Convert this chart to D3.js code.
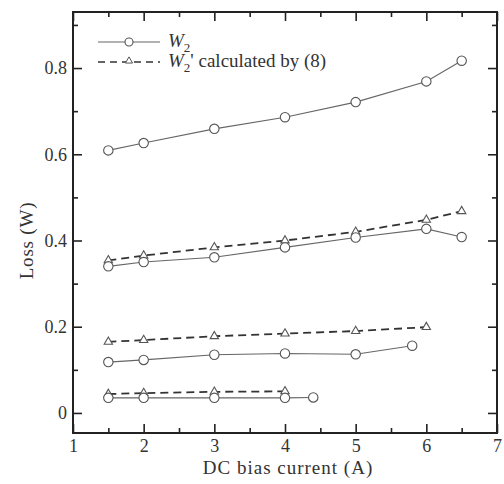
<!DOCTYPE html>
<html><head><meta charset="utf-8">
<script src="https://cdn.jsdelivr.net/npm/d3@7"></script>
<style>
html,body{margin:0;padding:0;background:#fff;}
</style></head>
<body><svg id="c" width="504" height="484"></svg>
<script>
// ---- data ----
const xA = [1.5, 2, 3, 4, 5, 6, 6.5];
const w2_high = [0.609, 0.626, 0.659, 0.686, 0.721, 0.769, 0.817];
const w2_mid = [0.340, 0.350, 0.361, 0.384, 0.407, 0.427, 0.408];
const w2p_mid = [0.354, 0.365, 0.384, 0.400, 0.420, 0.448, 0.468];
const xB = [1.5, 2, 3, 4, 5, 6];
const w2p_low = [0.165, 0.169, 0.178, 0.184, 0.190, 0.199];
const xC = [1.5, 2, 3, 4, 5, 5.8];
const w2_low = [0.118, 0.123, 0.135, 0.138, 0.136, 0.156];
const xD = [1.5, 2, 3, 4];
const w2p_bot = [0.044, 0.046, 0.049, 0.050];
const xE = [1.5, 2, 3, 4, 4.4];
const w2_bot = [0.035, 0.035, 0.035, 0.035, 0.036];
const xTicks = [1, 2, 3, 4, 5, 6, 7];
const yTicks = [0, 0.2, 0.4, 0.6, 0.8];
const xLabel = "DC bias current (A)";
const yLabel = "Loss (W)";

const solidSeries = [[xA, w2_high], [xA, w2_mid], [xC, w2_low], [xE, w2_bot]];
const dashSeries = [[xA, w2p_mid], [xB, w2p_low], [xD, w2p_bot]];

// ---- chart ----
const FONT = "'Liberation Serif', 'Times New Roman', 'DejaVu Serif', serif";
const svg = d3.select("#c");
const L = 73, R = 497, T = 12, B = 433;
const x = d3.scaleLinear().domain([1, 7]).range([L, R]);
const y = d3.scaleLinear().domain([-0.0465, 0.93]).range([B, T]);

const axisCol = "#222";
const g = svg.append("g");

function styleAxis(sel){
  sel.attr("font-family", null).attr("font-size", null);
  sel.select(".domain").remove();
  sel.selectAll("line").attr("stroke", axisCol).attr("stroke-width", 1.6);
  sel.selectAll("text").style("font-family", FONT).style("font-size", "18px").attr("fill", "#333");
}
const xMinor = d3.range(1.5, 7, 1);
const yMinor = [0.1, 0.3, 0.5, 0.7, 0.9];

const xAxisG = g.append("g").attr("transform", `translate(0,${B})`)
  .call(d3.axisBottom(x).tickValues(xTicks).tickFormat(d3.format("d")).tickSizeInner(-9).tickSizeOuter(0).tickPadding(6))
  .call(styleAxis);
xAxisG.selectAll("text").attr("dy", "0.71em");
g.append("g").attr("transform", `translate(0,${B})`)
  .call(d3.axisBottom(x).tickValues(xMinor).tickFormat("").tickSizeInner(-5).tickSizeOuter(0))
  .call(styleAxis);
g.append("g").attr("transform", `translate(0,${T})`)
  .call(d3.axisTop(x).tickValues(xTicks).tickFormat("").tickSizeInner(-9).tickSizeOuter(0))
  .call(styleAxis);
g.append("g").attr("transform", `translate(0,${T})`)
  .call(d3.axisTop(x).tickValues(xMinor).tickFormat("").tickSizeInner(-5).tickSizeOuter(0))
  .call(styleAxis);

g.append("g").attr("transform", `translate(${L},0)`)
  .call(d3.axisLeft(y).tickValues(yTicks).tickFormat(d => d === 0 ? "0" : d3.format(".1f")(d)).tickSizeInner(-9).tickSizeOuter(0).tickPadding(6))
  .call(styleAxis);
g.append("g").attr("transform", `translate(${L},0)`)
  .call(d3.axisLeft(y).tickValues(yMinor).tickFormat("").tickSizeInner(-5).tickSizeOuter(0))
  .call(styleAxis);
g.append("g").attr("transform", `translate(${R},0)`)
  .call(d3.axisRight(y).tickValues(yTicks).tickFormat("").tickSizeInner(-9).tickSizeOuter(0))
  .call(styleAxis);
g.append("g").attr("transform", `translate(${R},0)`)
  .call(d3.axisRight(y).tickValues(yMinor).tickFormat("").tickSizeInner(-5).tickSizeOuter(0))
  .call(styleAxis);

g.append("rect").attr("x", L).attr("y", T).attr("width", R - L).attr("height", B - T)
  .attr("fill", "none").attr("stroke", axisCol).attr("stroke-width", 2);

// axis titles
svg.append("text").attr("x", (L + R) / 2 + 3).attr("y", 474).attr("text-anchor", "middle")
  .style("font-family", FONT).style("font-size", "19px").style("letter-spacing", "1px").attr("fill", "#333").text(xLabel);
svg.append("text").attr("transform", `translate(33,${(T+B)/2 + 18}) rotate(-90)`).attr("text-anchor", "middle")
  .style("font-family", FONT).style("font-size", "19px").style("letter-spacing", "0.8px").attr("fill", "#333").text(yLabel);

const line = d3.line().x(d => x(d[0])).y(d => y(d[1]));
const solidCol = "#666", dashCol = "#333", markCol = "#555";

dashSeries.forEach(([xs, ys]) => {
  svg.append("path").datum(xs.map((v, i) => [v, ys[i]])).attr("d", line)
    .attr("fill", "none").attr("stroke", dashCol).attr("stroke-width", 1.8).attr("stroke-dasharray", "8,5");
});
solidSeries.forEach(([xs, ys]) => {
  svg.append("path").datum(xs.map((v, i) => [v, ys[i]])).attr("d", line)
    .attr("fill", "none").attr("stroke", solidCol).attr("stroke-width", 1.1);
});
const tri = d3.symbol().type(d3.symbolTriangle).size(30);
dashSeries.forEach(([xs, ys]) => {
  svg.append("g").selectAll("path").data(xs.map((v, i) => [v, ys[i]])).join("path")
    .attr("d", tri).attr("transform", d => `translate(${x(d[0])},${y(d[1])})`)
    .attr("fill", "#fff").attr("stroke", markCol).attr("stroke-width", 1.1);
});
solidSeries.forEach(([xs, ys]) => {
  svg.append("g").selectAll("circle").data(xs.map((v, i) => [v, ys[i]])).join("circle")
    .attr("cx", d => x(d[0])).attr("cy", d => y(d[1])).attr("r", 4.7)
    .attr("fill", "#fff").attr("stroke", markCol).attr("stroke-width", 1.1);
});

// legend
const lg = svg.append("g");
lg.append("line").attr("x1", 98).attr("x2", 160).attr("y1", 42).attr("y2", 42)
  .attr("stroke", solidCol).attr("stroke-width", 1.1);
lg.append("circle").attr("cx", 129).attr("cy", 42).attr("r", 4).attr("fill", "#fff").attr("stroke", markCol).attr("stroke-width", 1.1);
lg.append("line").attr("x1", 98).attr("x2", 160).attr("y1", 62).attr("y2", 62)
  .attr("stroke", dashCol).attr("stroke-width", 1.5).attr("stroke-dasharray", "7,5");
lg.append("path").attr("d", d3.symbol().type(d3.symbolTriangle).size(22)).attr("transform", "translate(129,61)")
  .attr("fill", "#fff").attr("stroke", markCol).attr("stroke-width", 1);
const t1 = lg.append("text").attr("x", 168).attr("y", 47).style("font-family", FONT).style("font-size", "19px").attr("fill", "#333");
t1.append("tspan").style("font-style", "italic").text("W");
t1.append("tspan").attr("dy", 5).style("font-size", "13px").text("2");
const t2 = lg.append("text").attr("x", 168).attr("y", 67).style("font-family", FONT).style("font-size", "19px").attr("fill", "#333");
t2.append("tspan").style("font-style", "italic").text("W");
t2.append("tspan").attr("dy", 5).style("font-size", "13px").text("2");
t2.append("tspan").attr("dy", -5).text("' calculated by (8)");
</script></body></html>
